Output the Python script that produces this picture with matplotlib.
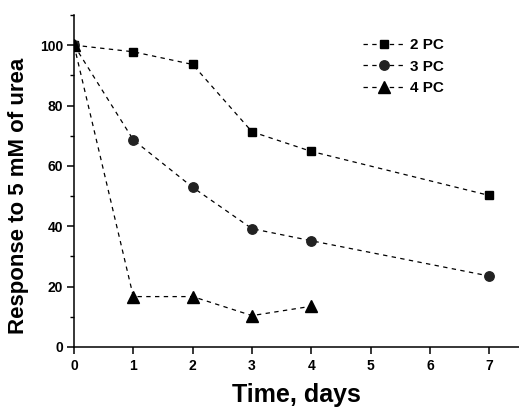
import matplotlib
matplotlib.use('Agg')
import matplotlib.pyplot as plt
from matplotlib.ticker import MultipleLocator

plt.rcParams['font.family'] = ['Liberation Sans', 'DejaVu Sans']
plt.rcParams['font.weight'] = 'bold'

# data
days_2pc = [0, 1, 2, 3, 4, 7]
resp_2pc = [100, 97.8, 93.6, 71.3, 64.8, 50.2]
days_3pc = [0, 1, 2, 3, 4, 7]
resp_3pc = [100, 68.6, 52.9, 39.2, 35.2, 23.5]
days_4pc = [0, 1, 2, 3, 4]
resp_4pc = [100, 16.7, 16.7, 10.4, 13.5]
labels = ['2 PC', '3 PC', '4 PC']

fig = plt.figure(figsize=(5.19, 4.09), dpi=100)
ax = fig.add_axes([0.1426, 0.1516, 0.8574, 0.8118])

dash = (0, (3.5, 3.5))
ax.plot(days_2pc, resp_2pc, color='black', lw=0.9, ls=dash, marker='s', ms=5.5, label=labels[0])
ax.plot(days_3pc, resp_3pc, color='black', lw=0.9, ls=dash, marker='o', ms=6.8,
        mfc='#222222', mec='#222222', label=labels[1])
ax.plot(days_4pc, resp_4pc, color='black', lw=0.9, ls=dash, marker='^', ms=8, label=labels[2])

ax.set_xlim(0, 7.5)
ax.set_ylim(0, 110)
ax.xaxis.set_major_locator(MultipleLocator(1))
ax.yaxis.set_minor_locator(MultipleLocator(10))
ax.set_yticks([0, 20, 40, 60, 80, 100])

for s in ['top', 'right']:
    ax.spines[s].set_visible(False)
for s in ['left', 'bottom']:
    ax.spines[s].set_linewidth(1.1)
ax.tick_params(which='major', direction='out', length=5, width=1.1, labelsize=10, pad=3)
ax.tick_params(which='minor', direction='out', length=3, width=1.0)
ax.tick_params(axis='x', which='minor', bottom=False)
ax.tick_params(axis='x', which='major', pad=4)
for lab in ax.get_xticklabels() + ax.get_yticklabels():
    lab.set_fontweight('bold')

# axis titles placed in figure pixels to match the reference
fig.text(296 / 519, 1 - 395 / 409, 'Time, days', fontsize=18, fontweight='bold',
         ha='center', va='center')
fig.text(19 / 519, 1 - 196 / 409, 'Response to 5 mM of urea', fontsize=16, fontweight='bold',
         ha='center', va='center', rotation=90)

leg = ax.legend(loc='upper left', bbox_to_anchor=(363 / 519, 1 - 38 / 409),
                bbox_transform=fig.transFigure, frameon=False,
                handlelength=2.8, handletextpad=0.3, labelspacing=0.5, borderpad=0,
                borderaxespad=0, prop={'weight': 'bold', 'size': 11})

fig.savefig('out.png', dpi=100)
